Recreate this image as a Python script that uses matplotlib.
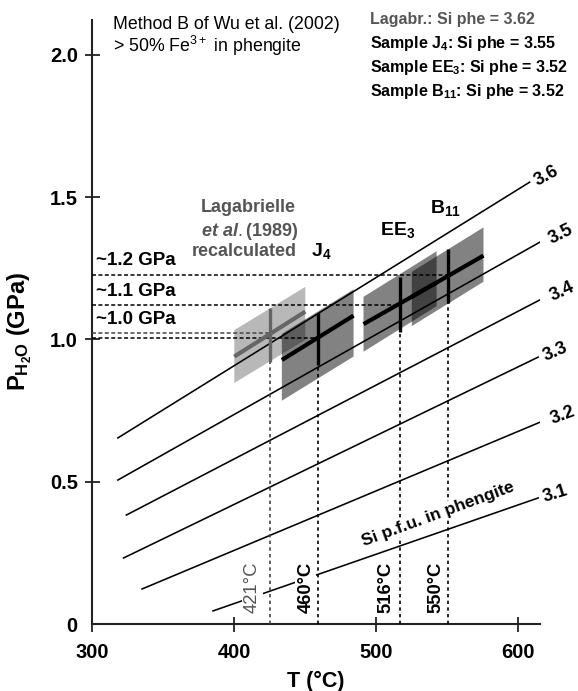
import matplotlib
matplotlib.use('Agg')
import matplotlib.pyplot as plt
import numpy as np
from matplotlib.patches import Polygon

plt.rcParams['font.family'] = ['Liberation Sans', 'DejaVu Sans']
plt.rcParams['mathtext.fontset'] = 'custom'
plt.rcParams['mathtext.rm'] = 'Liberation Sans'
plt.rcParams['mathtext.bf'] = 'Liberation Sans:bold'
plt.rcParams['mathtext.it'] = 'Liberation Sans:italic:bold'
plt.rcParams['mathtext.default'] = 'regular'

# ---------------- data ----------------
# Si isopleths (Si p.f.u. in phengite): end points (T in degC, P in GPa)
iso_si = ['3.6', '3.5', '3.4', '3.3', '3.2', '3.1']
iso_t0 = [318, 318, 324, 322, 335, 385]
iso_p0 = [0.654, 0.506, 0.383, 0.232, 0.123, 0.046]
iso_t1 = [608, 618, 619, 614, 619, 614]
iso_p1 = [1.553, 1.350, 1.149, 0.938, 0.717, 0.443]

# samples: uncertainty parallelograms, Si-isopleth segment and T estimate
sample_names = ['Lagabrielle', 'J4', 'EE3', 'B11']
box_t_lo = [400, 433.5, 491, 525]
box_t_hi = [450, 484, 542.5, 575.5]
box_bot_lo = [0.847, 0.785, 0.957, 1.047]
box_bot_hi = [0.999, 0.940, 1.117, 1.203]
box_top_lo = [1.033, 1.020, 1.150, 1.238]
box_top_hi = [1.185, 1.176, 1.310, 1.394]
si_p_lo = [0.940, 0.928, 1.054, 1.150]
si_p_hi = [1.098, 1.084, 1.200, 1.295]
t_drawn = [425.5, 459, 517, 550.3]
p_est = [1.022, 1.006, 1.121, 1.227]
vbar_lo = [0.92, 0.91, 1.028, 1.127]
vbar_hi = [1.11, 1.093, 1.221, 1.317]
t_labels = ['421°C', '460°C', '516°C', '550°C']
p_labels = ['~1.2 GPa', '~1.1 GPa', '~1.0 GPa']
p_label_vals = [1.227, 1.121, 1.022]

legend_lines = ['Lagabr.: Si phe = 3.62',
                r'Sample J$_4$: Si phe = 3.55',
                r'Sample EE$_3$: Si phe = 3.52',
                r'Sample B$_{11}$: Si phe = 3.52']

x_ticks = [300, 400, 500, 600]
y_ticks = [0, 0.5, 1.0, 1.5, 2.0]
y_tick_labels = ['0', '0.5', '1.0', '1.5', '2.0']

# ---------------- figure ----------------
W, H = 578, 691
fig = plt.figure(figsize=(W / 100, H / 100), dpi=100)
ax = fig.add_axes([92.3 / W, (H - 624) / H, 447.7 / W, 604 / H])
ax.set_xlim(300, 615.3)
ax.set_ylim(0, 2.123)

for s in ['top', 'right']:
    ax.spines[s].set_visible(False)
for s in ['left', 'bottom']:
    ax.spines[s].set_linewidth(1.5)
    ax.spines[s].set_color('#222222')

ax.set_xticks(x_ticks)
ax.set_yticks(y_ticks)
ax.set_yticklabels(y_tick_labels)
ax.tick_params(direction='inout', length=10.8, width=1.3, color='#222222',
               labelsize=14.5)
ax.tick_params(axis='x', pad=8)
ax.tick_params(axis='y', pad=5)
for lab in ax.get_xticklabels() + ax.get_yticklabels():
    lab.set_fontweight('bold')
ax.yaxis.get_major_ticks()[0].tick1line.set_visible(False)

ax.set_xlabel('T (°C)', fontsize=15.5, fontweight='bold')
ax.xaxis.set_label_coords(0.5, -0.077)
ax.set_ylabel(r'P$_{\mathbf{H_2O}}$ (GPa)', fontsize=17, fontweight='bold')
ax.yaxis.set_label_coords(-0.130, 0.485)

def screen_angle(t0, p0, t1, p1):
    (x0, y0), (x1, y1) = ax.transData.transform([(t0, p0), (t1, p1)])
    return np.degrees(np.arctan2(y1 - y0, x1 - x0))

# isopleths
for i, si in enumerate(iso_si):
    ax.plot([iso_t0[i], iso_t1[i]], [iso_p0[i], iso_p1[i]], color='black',
            lw=1.15, zorder=2)
    ang = screen_angle(iso_t0[i], iso_p0[i], iso_t1[i], iso_p1[i])
    ax.annotate(si, xy=(iso_t1[i], iso_p1[i]), xytext=(4, 0),
                textcoords='offset points', rotation=ang * 0.9,
                rotation_mode='anchor', ha='left', va='center',
                fontsize=13, fontweight='bold', annotation_clip=False)

# sample boxes
box_alpha = [0.28, 0.49, 0.49, 0.49]
cross_col = ['#666666', 'black', 'black', 'black']
for i in range(len(sample_names)):
    poly = Polygon([(box_t_lo[i], box_bot_lo[i]), (box_t_hi[i], box_bot_hi[i]),
                    (box_t_hi[i], box_top_hi[i]), (box_t_lo[i], box_top_lo[i])],
                   closed=True, facecolor='black', alpha=box_alpha[i],
                   edgecolor='none', zorder=1)
    ax.add_patch(poly)

# dashed horizontal & dotted vertical guide lines
for i in range(len(sample_names)):
    col = '#444444' if i == 0 else 'black'
    ax.plot([300, t_drawn[i]], [p_est[i], p_est[i]], color=col, lw=1.1,
            ls=(0, (2.6, 1.6)), zorder=3)
    ax.plot([t_drawn[i], t_drawn[i]], [0, p_est[i]], color=col, lw=1.2,
            ls=(0, (2.0, 2.0)), zorder=3)

# crosses
for i in range(len(sample_names)):
    ax.plot([box_t_lo[i], box_t_hi[i]], [si_p_lo[i], si_p_hi[i]],
            color=cross_col[i], lw=3.0, solid_capstyle='butt', zorder=5)
    ax.plot([t_drawn[i], t_drawn[i]], [vbar_lo[i], vbar_hi[i]],
            color=cross_col[i], lw=2.4, solid_capstyle='butt', zorder=5)

# pressure labels
for lab, p in zip(p_labels, p_label_vals):
    ax.annotate(lab, xy=(300, p), xytext=(3, 4), textcoords='offset points',
                ha='left', va='bottom', fontsize=13.5, fontweight='bold')

# temperature labels (rotated)
t_label_x = [412.8, 450.4, 506.7, 541.9]
t_label_col = ['#555555', 'black', 'black', 'black']
t_label_w = ['normal', 'bold', 'bold', 'bold']
for i, lab in enumerate(t_labels):
    ax.text(t_label_x[i], 0.128, lab, rotation=90, ha='center', va='center',
            fontsize=13.3, color=t_label_col[i], fontweight=t_label_w[i],
            zorder=6, bbox=dict(facecolor='white', edgecolor='none', pad=1.5))

ang31 = screen_angle(iso_t0[5], iso_p0[5], iso_t1[5], iso_p1[5])
ax.text(543.7, 0.387, 'Si p.f.u. in phengite', rotation=ang31 + 1,
        rotation_mode='anchor', ha='center', va='center', fontsize=12.5,
        fontweight='bold', zorder=6,
        bbox=dict(facecolor='white', edgecolor='none', pad=1.0))

# sample labels
def fx(px):
    return px / W

def fy(py):
    return 1 - py / H

fig.text(fx(248), fy(212), 'Lagabrielle', ha='center', va='baseline',
         fontsize=13, fontweight='bold', color='#555555')
fig.text(fx(250), fy(236), r'$\mathit{et\ al.}$(1989)', ha='center',
         va='baseline', fontsize=13, fontweight='bold', color='#555555')
fig.text(fx(244), fy(256), 'recalculated', ha='center', va='baseline',
         fontsize=13, fontweight='bold', color='#555555')
fig.text(fx(311), fy(256), r'J$_4$', ha='left', va='baseline',
         fontsize=14, fontweight='bold')
fig.text(fx(380), fy(235), r'EE$_3$', ha='left', va='baseline',
         fontsize=14, fontweight='bold')
fig.text(fx(430), fy(213), r'B$_{11}$', ha='left', va='baseline',
         fontsize=14, fontweight='bold')

# header texts
fig.text(fx(113), fy(29), 'Method B of Wu et al. (2002)', ha='left',
         va='baseline', fontsize=12.8)
fig.text(fx(113), fy(52), r'> 50% Fe$^{3+}$ in phengite', ha='left',
         va='baseline', fontsize=12.8)
for k, line in enumerate(legend_lines):
    fig.text(fx(370), fy(24 + 24 * k), line, ha='left', va='baseline',
             fontsize=11.5, fontweight='bold',
             color='#555555' if k == 0 else 'black')

fig.savefig('out.png', dpi=100)
